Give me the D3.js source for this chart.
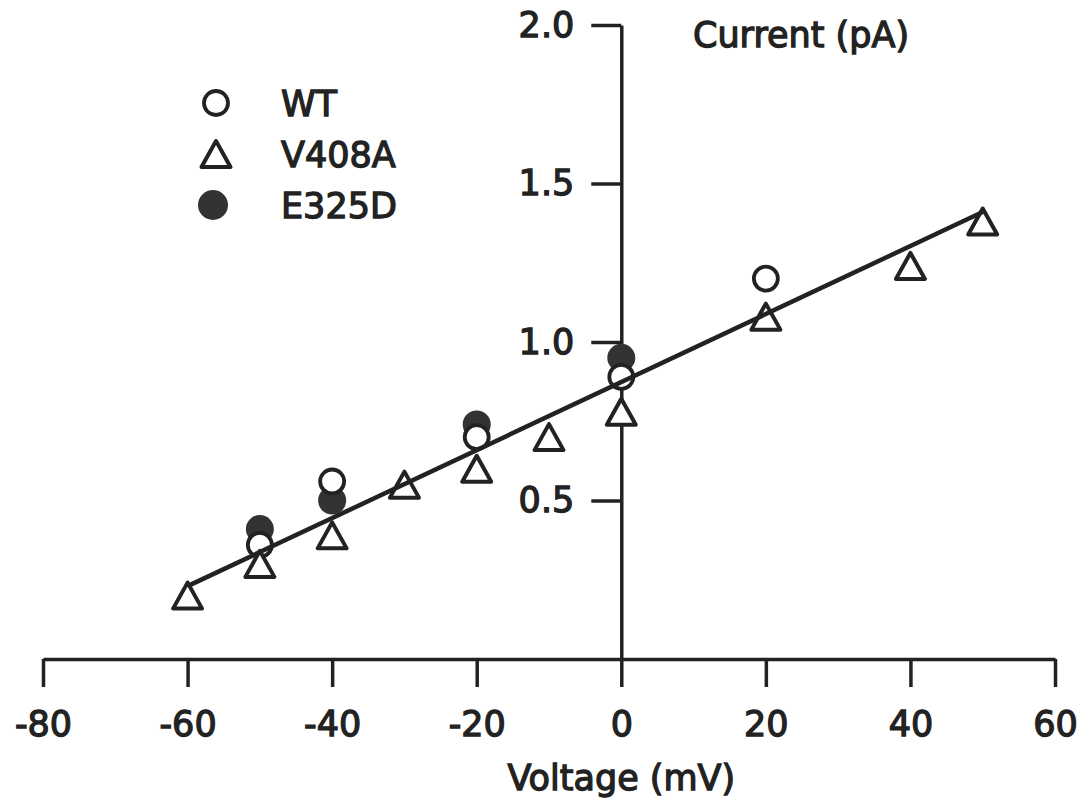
<!DOCTYPE html>
<html>
<head>
<meta charset="utf-8">
<script src="https://cdn.jsdelivr.net/npm/d3@7"></script>
<style>
  body { margin: 0; background: #fff; }
  text { font-family: "DejaVu Sans", sans-serif; fill: #222; stroke: #222; stroke-width: 1.3px; }
</style>
</head>
<body>
<div class="container"></div>
<script>
const w = 1081
const h = 806

// data
const xTicks = [-80, -60, -40, -20, 0, 20, 40, 60]
const yTicks = [0.5, 1.0, 1.5, 2.0]

const wtVoltage = [-50, -40, -20, 0, 20]
const wtCurrent = [0.36, 0.56, 0.70, 0.89, 1.20]

const v408aVoltage = [-60, -50, -40, -30, -20, -10, 0, 20, 40, 50]
const v408aCurrent = [0.20, 0.30, 0.39, 0.55, 0.60, 0.70, 0.78, 1.08, 1.24, 1.38]

const e325dVoltage = [-50, -40, -20, 0]
const e325dCurrent = [0.41, 0.50, 0.74, 0.95]

const fitVoltage = [-60, 50]
const fitCurrent = [0.23, 1.41]

const legendLabels = ["WT", "V408A", "E325D"]

const ink = "#222"

const svg = d3.select(".container")
              .append("svg")
              .attr("width", w)
              .attr("height", h)

const xScale = d3.scaleLinear()
                 .domain([-80, 60])
                 .range([43, 1055])

const yScale = d3.scaleLinear()
                 .domain([0, 2.0])
                 .range([659, 25])

const zip = (xs, ys) => xs.map((x, i) => ({ x: x, y: ys[i] }))

const triPath = "M0,-13L14.5,13L-14.5,13Z"

// axes (plain hyphen for negatives, like the original)
const xAxis = d3.axisBottom(xScale)
                .tickValues(xTicks)
                .tickFormat(d => String(d))
                .tickSize(28)
                .tickSizeOuter(0)
                .tickPadding(24)

const yAxis = d3.axisLeft(yScale)
                .tickValues(yTicks)
                .tickFormat(d3.format(".1f"))
                .tickSize(30)
                .tickSizeOuter(0)
                .tickPadding(17)

svg.append("g")
   .attr("id", "x-axis")
   .attr("transform", `translate(0, ${yScale(0)})`)
   .call(xAxis)

svg.append("g")
   .attr("id", "y-axis")
   .attr("transform", `translate(${xScale(0)}, 0)`)
   .call(yAxis)

svg.selectAll(".domain, .tick line")
   .attr("stroke", ink)
   .attr("stroke-width", 3.5)

svg.selectAll(".tick text")
   .attr("font-size", 35)
   .attr("font-family", "DejaVu Sans")
   .attr("fill", ink)

svg.append("text")
   .attr("x", 693)
   .attr("y", 47)
   .attr("font-size", 35)
   .text("Current (pA)")

svg.append("text")
   .attr("x", xScale(0))
   .attr("y", 790)
   .attr("text-anchor", "middle")
   .attr("font-size", 35)
   .text("Voltage (mV)")

// markers: filled, then open circles, then triangles
svg.append("g")
   .selectAll("circle")
   .data(zip(e325dVoltage, e325dCurrent))
   .enter()
   .append("circle")
     .attr("cx", d => xScale(d.x))
     .attr("cy", d => yScale(d.y))
     .attr("r", 14)
     .attr("fill", "#333")

svg.append("g")
   .selectAll("circle")
   .data(zip(wtVoltage, wtCurrent))
   .enter()
   .append("circle")
     .attr("cx", d => xScale(d.x))
     .attr("cy", d => yScale(d.y))
     .attr("r", 12)
     .attr("fill", "#fff")
     .attr("stroke", ink)
     .attr("stroke-width", 3.8)

svg.append("g")
   .selectAll("path")
   .data(zip(v408aVoltage, v408aCurrent))
   .enter()
   .append("path")
     .attr("d", triPath)
     .attr("transform", d => `translate(${xScale(d.x)}, ${yScale(d.y)})`)
     .attr("fill", "#fff")
     .attr("stroke", ink)
     .attr("stroke-width", 4)
     .attr("stroke-linejoin", "round")

// fitted line
const line = d3.line()
               .x(d => xScale(d.x))
               .y(d => yScale(d.y))

svg.append("path")
   .datum(zip(fitVoltage, fitCurrent))
   .attr("d", line)
   .attr("fill", "none")
   .attr("stroke", ink)
   .attr("stroke-width", 4.5)

// legend
const legend = svg.append("g")
                  .attr("id", "legend")
                  .attr("transform", "translate(216, 103)")

const rows = legend.selectAll("g")
                   .data(legendLabels)
                   .enter()
                   .append("g")
                     .attr("transform", (d, i) => `translate(0, ${i * 51})`)

rows.filter((d, i) => i == 0)
    .append("circle")
      .attr("r", 12)
      .attr("fill", "#fff")
      .attr("stroke", ink)
      .attr("stroke-width", 3.8)

rows.filter((d, i) => i == 1)
    .append("path")
      .attr("d", triPath)
      .attr("fill", "#fff")
      .attr("stroke", ink)
      .attr("stroke-width", 4)
      .attr("stroke-linejoin", "round")

rows.filter((d, i) => i == 2)
    .append("circle")
      .attr("cx", -3)
      .attr("r", 15)
      .attr("fill", "#333")

rows.append("text")
    .attr("x", 65)
    .attr("dy", "0.36em")
    .attr("font-size", 35)
    .text(d => d)
</script>
</body>
</html>
